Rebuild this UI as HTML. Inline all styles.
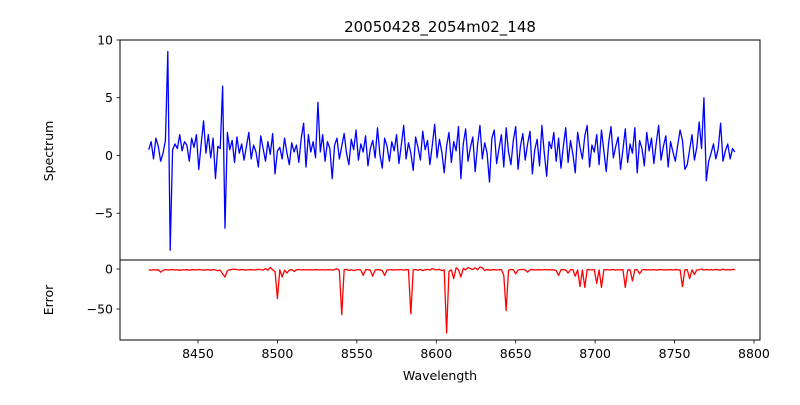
<!DOCTYPE html>
<html><head><meta charset="utf-8"><style>
body{margin:0;background:#fff;width:800px;height:400px;overflow:hidden}
svg{font-family:"DejaVu Sans","Liberation Sans",sans-serif}
</style></head><body>
<svg id="c" width="800" height="400"></svg>
<script>
const lamStart=8419, lamStep=1.5;
const spectrum=[0.5,1.2,-0.3,1.5,0.8,-0.5,0.2,1.3,9.0,-8.2,
0.5,1.0,0.6,1.8,0.4,1.2,0.9,-0.5,1.5,0.7,1.8,-1.2,1.0,3.0,0.2,1.8,-0.2,1.5,-2.0,0.8,0.6,
6.0,-6.3,
2.0,0.5,1.3,-0.6,1.6,0.2,1.0,-0.4,0.8,2.0,-0.3,0.9,0.3,-1.0,1.7,0.6,-0.5,1.2,0.1,1.9,-1.6,0.4,0.7,-0.3,1.5,0.2,-0.8,1.1,0.3,0.9,-0.6,1.5,2.8,-1.0,1.8,0.3,1.2,-0.2,
4.6,
0.3,1.8,-0.5,1.2,0.6,-2.0,0.9,1.5,-0.3,0.8,
1.9,0.2,-0.8,1.4,0.5,2.2,-0.4,1.0,0.3,1.7,
-0.9,0.6,1.3,-0.2,2.4,0.1,-1.1,1.5,0.8,-0.5,
1.2,0.4,1.8,-0.7,0.9,2.6,-0.3,1.1,0.2,-1.3,
1.6,0.7,-0.4,2.1,0.5,1.3,-0.8,0.9,2.7,-0.2,
1.4,0.3,-1.5,0.8,2.0,-0.6,1.2,0.4,2.5,-2.0,
1.0,2.3,-0.5,0.7,1.6,-1.4,0.9,2.6,-0.3,1.1,
0.2,-2.3,1.5,2.2,-0.7,0.6,1.8,-1.0,2.4,0.3,
-0.8,1.3,2.5,-1.2,0.8,1.9,-0.4,1.0,2.1,-1.6,
0.5,1.4,-0.9,2.6,0.2,-1.8,1.2,0.6,2.0,-0.5,
1.5,-1.1,0.8,2.4,-0.6,1.3,0.1,-1.5,2.0,0.7,
-0.3,1.7,2.6,-1.0,0.9,0.3,1.8,-0.8,2.2,0.4,
-1.4,1.1,2.5,-0.2,0.8,1.6,-1.2,0.5,2.3,-0.6,
1.0,0.2,2.4,-1.5,1.3,0.6,-0.9,2.0,0.4,1.5,
-0.7,1.1,2.6,-0.4,0.8,1.7,-1.0,1.2,0.3,-0.5,
0.9,2.2,1.3,-1.2,-0.8,0.5,1.8,-0.4,0.7,2.9,0.6,
5.0,-2.2,
-0.5,0.2,1.0,-0.3,0.6,2.8,-0.5,0.4,1.0,-0.3,0.6,0.3];
const errorVals=[-1,-1.5,-0.8,-1.2,-1,-4,-1.5,-0.8,-1.2,-1,
-0.6,-1.3,-1,-1.8,-0.9,-1.2,-0.7,-1.5,-1,-0.8,
-1.3,-0.6,-1.1,-1.4,-0.9,-1,-1.6,-0.8,-1.2,-2,
-1.5,-6,-10,-2,-1,-0.5,-0.2,-0.8,-1.2,-0.6,
-1,-1.4,-0.9,-0.7,-1.3,-1,-0.5,-0.9,-1.2,0.5,
-1.5,2,-1,-3,-37,-1,-10,-1.5,-5,-1.2,
-0.8,-3,-1,-0.6,-1.1,-0.9,-1.2,-0.8,-1,-1.3,
-0.7,-1,-1.1,-0.9,-1.2,-0.8,-1,-1.4,-0.6,0.5,
-2,-57,-1,-0.5,-1.8,-1,-2,-1.1,-0.6,-1.3,
-8,-1,-0.7,-1.5,-9,-1.2,-0.8,-1,-2,-8,
-1.2,-0.8,-1,-1.3,-0.9,-1.1,-0.6,-1.4,-0.7,-1,
-56,-1,-0.8,-1.5,-0.6,-2,-1,-0.5,-1.3,0.5,
-0.8,-1,-0.4,-2,-1,-80,-3,-1,-12,1.5,
-1,-10,0.8,-1.2,2,0.5,-0.8,1.5,-1,2.5,
1.5,-2,-0.5,-1.5,-1,-0.8,-1.2,-1,-0.7,-8,
-52,-1.5,-0.6,-1,-6,-1.2,-0.8,-0.5,-1,-4,
-1,-0.7,-1.2,-0.9,-1,-1.3,-0.6,-1.1,-0.8,-1.2,
-1,-2,-8,-1,-0.8,-1.3,-5,-1,-0.7,-9,
-1,-22,-1.2,-23,-0.8,-1,-1.1,-0.9,-18,-1.2,
-23,-1,-0.8,-1.2,-1,-0.6,-1.4,-0.9,-1.1,-0.8,
-23,-1.2,-1,-15,-1,-0.8,-6,-1.3,-0.7,-1.1,
-0.9,-1.2,-0.8,-1.4,-1,-0.6,-1.2,-0.9,-1.1,-0.8,
-1.3,-0.7,-1,-1.2,-22,-1,-0.8,-12,-1,-7,
-1.2,-0.9,0,-1.4,-0.6,-1.1,-0.8,-1.3,-0.5,-1,
-1.5,-0.2,-1.2,-0.7,-1.3,-0.4,-1];
const xTicks=[8450,8500,8550,8600,8650,8700,8750,8800];
const topTicks=[10,5,0,-5];
const botTicks=[0,-50];

const NS="http://www.w3.org/2000/svg";
const svg=document.getElementById('c');
const L=120,R=760,T1=40,B1=260,T2=260,B2=340;
const xMin=8400.9,xMax=8803.8;
const y1Min=-9.05,y1Max=10,y2Min=-88.75,y2Max=11.25;
const X=w=>L+(w-xMin)/(xMax-xMin)*(R-L);
const Y1=v=>B1-(v-y1Min)/(y1Max-y1Min)*(B1-T1);
const Y2=v=>B2-(v-y2Min)/(y2Max-y2Min)*(B2-T2);
function el(t,a,txt){const e=document.createElementNS(NS,t);for(const k in a)e.setAttribute(k,a[k]);if(txt!==undefined)e.textContent=txt;svg.appendChild(e);return e;}
const fmt=v=>v<0?'\u2212'+Math.abs(v):String(v);
const FS=12.5;

let p1=spectrum.map((v,i)=>X(lamStart+i*lamStep).toFixed(2)+','+Y1(v).toFixed(2)).join(' ');
let s1=el('polyline',{points:p1,fill:'none',stroke:'#0000ff','stroke-width':1.3,'stroke-linejoin':'round'});


let p2=errorVals.map((v,i)=>X(lamStart+i*lamStep).toFixed(2)+','+Y2(v).toFixed(2)).join(' ');
let s2=el('polyline',{points:p2,fill:'none',stroke:'#ff0000','stroke-width':1.3,'stroke-linejoin':'round'});



let f1=el('rect',{x:L,y:T1,width:R-L,height:B1-T1,fill:'none',stroke:'#000','stroke-width':1});


let f2=el('rect',{x:L,y:T2,width:R-L,height:B2-T2,fill:'none',stroke:'#000','stroke-width':1});



xTicks.forEach(t=>{const x=X(t);
 el('line',{x1:x,x2:x,y1:B2,y2:B2+3.5,stroke:'#000','stroke-width':0.8});
 const tx=el('text',{x:x,y:B2+18,'text-anchor':'middle','font-size':FS},String(t));
 
 
});
topTicks.forEach(t=>{const y=Y1(t);
 el('line',{x1:L-3.5,x2:L,y1:y,y2:y,stroke:'#000','stroke-width':0.8});
 const tx=el('text',{x:L-7,y:y+4.5,'text-anchor':'end','font-size':FS},fmt(t));
 
 
});
botTicks.forEach(t=>{const y=Y2(t);
 el('line',{x1:L-3.5,x2:L,y1:y,y2:y,stroke:'#000','stroke-width':0.8});
 const tx=el('text',{x:L-7,y:y+4.5,'text-anchor':'end','font-size':FS},fmt(t));
 
 
});
</script>
<svg style="position:absolute;left:0;top:0" width="800" height="400">
<text x="440" y="32" text-anchor="middle" font-size="15" font-family="DejaVu Sans, Liberation Sans, sans-serif">20050428_2054m02_148</text>
<text transform="translate(53,151) rotate(-90)" text-anchor="middle" font-size="12.5" font-family="DejaVu Sans, Liberation Sans, sans-serif">Spectrum</text>
<text transform="translate(53,300) rotate(-90)" text-anchor="middle" font-size="12.5" font-family="DejaVu Sans, Liberation Sans, sans-serif">Error</text>
<text x="440" y="380" text-anchor="middle" font-size="12.5" font-family="DejaVu Sans, Liberation Sans, sans-serif">Wavelength</text>
</svg>
</body></html>
